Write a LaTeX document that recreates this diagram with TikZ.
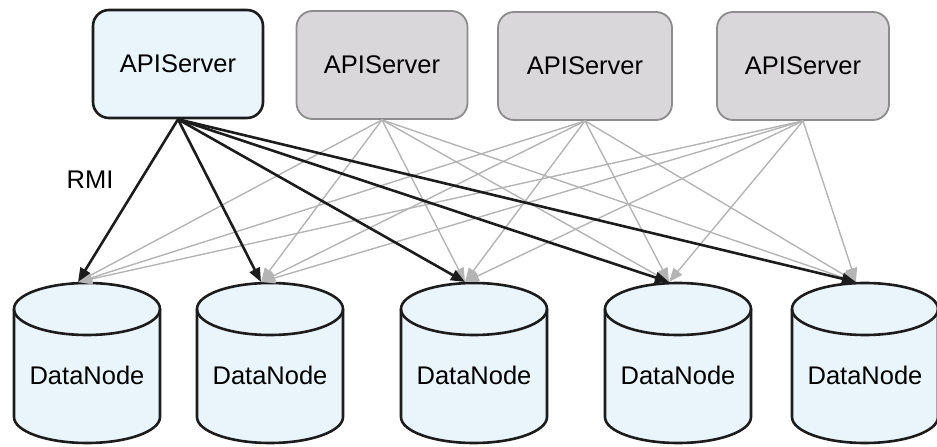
\documentclass[tikz,border=0pt]{standalone}
\usepackage{fontspec}
\setmainfont{Liberation Sans}
\usetikzlibrary{arrows.meta}
\definecolor{lblue}{HTML}{EAF4FB}
\definecolor{sgray}{HTML}{D9D7D9}
\definecolor{sborder}{HTML}{8C8C8C}
\definecolor{agray}{HTML}{B4B4B4}
\definecolor{dark}{HTML}{1C1C1C}
\tikzset{
  srvmain/.style={draw=dark, line width=2.6pt, fill=lblue, rounded corners=16pt,
    minimum width=170pt, minimum height=108pt, inner sep=0pt},
  srvgray/.style={draw=sborder, line width=1.8pt, fill=sgray, rounded corners=16pt,
    minimum width=171pt, minimum height=108pt, inner sep=0pt},
  cylbody/.style={draw=dark, line width=2.6pt, fill=lblue},
  cylline/.style={draw=dark, line width=2.6pt},
  garrow/.style={draw=agray, line width=1.4pt, -{Triangle[length=14pt,width=11pt]}},
  barrow/.style={draw=dark, line width=2.6pt, -{Triangle[length=14pt,width=11pt]}},
}
\begin{document}
\begin{tikzpicture}[x=1pt,y=1pt,font=\fontsize{25.5}{30}\selectfont]
\useasboundingbox (0,0) rectangle (937,447);
% servers
\node[srvmain] (s1) at (178,383) {APIServer};
\node[srvgray] (s2) at (382,382) {APIServer};
\node[srvgray,minimum width=174pt] (s3) at (585,381) {APIServer};
\node[srvgray,minimum width=172pt] (s4) at (803,381) {APIServer};
% data nodes
\foreach \i/\cx in {1/87,2/270,3/474,4/678,5/865} {
  \draw[cylbody] (\cx-73,138) -- (\cx-73,30)
     arc[start angle=180,end angle=360,x radius=73,y radius=26]
     -- (\cx+73,138)
     arc[start angle=0,end angle=180,x radius=73,y radius=26] -- cycle;
  \draw[cylline] (\cx-73,138) arc[start angle=180,end angle=360,x radius=73,y radius=26];
  \node (d\i) at (\cx,72) {DataNode};
  \coordinate (t\i) at (\cx-9,165);
}
% connectors
\foreach \s in {2,3,4}{
  \foreach \i in {1,...,5}{
    \draw[garrow] (s\s.south) -- (t\i);
  }
}
\foreach \i in {1,...,5}{
  \draw[barrow] (s1.south) -- (t\i);
}
\node (rmi) at (90,267) {RMI};
\end{tikzpicture}
\end{document}
